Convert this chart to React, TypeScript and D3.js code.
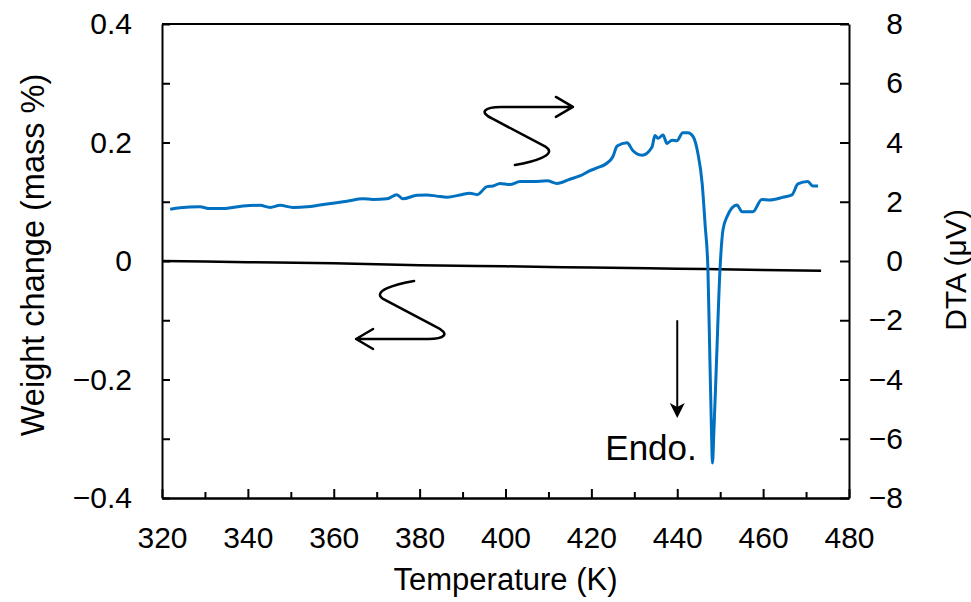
import React, { useEffect, useRef } from 'react';
import * as d3 from 'd3';

// DTA trace (temperature in K, signal in µV)
const dtaTemp = [
  321.9, 324.2, 328.8, 331.2, 334.2, 338.9, 342.8, 345.2, 347.5, 350.5,
  353.8, 356.8, 359.8, 363.1, 366.8, 369.1, 372.4, 374.7, 376.1, 379.4,
  381.7, 384.0, 386.4, 389.4, 391.7, 393.4, 395.7, 397.1, 398.7, 401.0,
  403.4, 406.4, 409.7, 412.0, 415.0, 417.3, 419.7, 421.3, 423.6, 425.0,
  426.0, 428.3, 429.7, 431.8, 434.1, 434.8, 435.5, 436.7, 437.6, 438.8,
  439.9, 441.3, 442.5, 443.7, 444.8, 445.8, 446.5, 447.15, 447.62, 447.97,
  448.2, 448.55, 449.13, 449.95, 450.65, 451.6, 453.9, 455.1, 457.6, 459.7,
  461.6, 464.6, 466.7, 468.1, 470.4, 471.6, 472.8,
];
const dtaValue = [
  1.75, 1.80, 1.83, 1.77, 1.77, 1.86, 1.88, 1.81, 1.88, 1.81,
  1.83, 1.89, 1.95, 2.02, 2.10, 2.08, 2.10, 2.24, 2.10, 2.22,
  2.23, 2.19, 2.15, 2.23, 2.29, 2.24, 2.51, 2.53, 2.62, 2.58,
  2.68, 2.68, 2.71, 2.62, 2.76, 2.87, 3.05, 3.14, 3.30, 3.52,
  3.88, 3.99, 3.72, 3.57, 3.84, 4.24, 4.14, 4.25, 3.97, 4.08,
  4.06, 4.33, 4.33, 4.20, 3.64, 2.62, 1.20, -0.30, -3.44, -5.70,
  -6.82, -5.70, -3.44, -0.30, 1.05, 1.50, 1.89, 1.66, 1.66, 2.08,
  2.06, 2.15, 2.23, 2.60, 2.68, 2.53, 2.53,
];

// weight change trace (mass %)
const tgTemp = [320, 340, 360, 380, 400, 420, 440, 460, 473.5];
const tgValue = [0, -0.002, -0.004, -0.007, -0.009, -0.011, -0.013, -0.015, -0.0165];

// ticks
const xMajor = [320, 340, 360, 380, 400, 420, 440, 460, 480];
const xMinor = [330, 350, 370, 390, 410, 430, 450, 470];
const leftTicks = [-0.4, -0.3, -0.2, -0.1, 0, 0.1, 0.2, 0.3, 0.4];
const rightTicks = [-8, -6, -4, -2, 0, 2, 4, 6, 8];

// annotation anchors in data units (T, mass %)
const upperArrowTip: [number, number] = [415.7, 0.26];
const lowerArrowTip: [number, number] = [365.2, -0.1316];
const endoArrow = { t: 440, from: -0.1, to: -0.265 };
const endoLabel = { t: 433.9, w: -0.336, text: 'Endo.' };

const W = 971;
const H = 602;
const margin = { top: 24, right: 122, bottom: 104, left: 162 };
const FONT = '"Liberation Sans", Arial, sans-serif';
const BLUE = '#0070C0';

const fmtLeft = (v: number) => {
  if (Math.abs(v) < 1e-9) return '0';
  if (Math.round(v * 10) % 2 !== 0) return '';
  return (v < 0 ? '\u2212' : '') + Math.abs(v).toFixed(1);
};
const fmtRight = (v: number) => (v < 0 ? '\u2212' : '') + Math.abs(v);

const App: React.FC = () => {
  const svgRef = useRef<SVGSVGElement>(null);

  useEffect(() => {
    if (!svgRef.current) return;
    const svg = d3.select(svgRef.current);
    svg.selectAll('*').remove();

    const iw = W - margin.left - margin.right;
    const ih = H - margin.top - margin.bottom;

    const x = d3.scaleLinear().domain([320, 480]).range([margin.left, margin.left + iw]);
    const yL = d3.scaleLinear().domain([-0.4, 0.4]).range([margin.top + ih, margin.top]);
    const yR = d3.scaleLinear().domain([-8, 8]).range([margin.top + ih, margin.top]);

    const styleAxis = (g: d3.Selection<SVGGElement, unknown, null, undefined>) => {
      g.select('.domain').attr('stroke', '#000').attr('stroke-width', 2);
      g.selectAll('.tick line').attr('stroke', '#000').attr('stroke-width', 2);
      g.selectAll('.tick text')
        .attr('fill', '#000')
        .style('font-family', FONT)
        .style('font-size', '30px');
    };

    // top border
    svg.append('line')
      .attr('x1', margin.left).attr('x2', margin.left + iw)
      .attr('y1', margin.top).attr('y2', margin.top)
      .attr('stroke', '#000').attr('stroke-width', 2);

    // x axis: minor then major
    svg.append('g')
      .attr('transform', `translate(0,${margin.top + ih})`)
      .call(d3.axisBottom(x).tickValues(xMinor).tickSizeInner(-6).tickSizeOuter(0).tickFormat(() => ''))
      .call(styleAxis);
    const gx = svg.append('g')
      .attr('transform', `translate(0,${margin.top + ih})`)
      .call(d3.axisBottom(x).tickValues(xMajor).tickSizeInner(-9).tickSizeOuter(0).tickPadding(29).tickFormat(d => String(d)))
      .call(styleAxis);
    gx.selectAll('.tick text').attr('dy', '0.71em');

    // left axis
    svg.append('g')
      .attr('transform', `translate(${margin.left},0)`)
      .call(d3.axisLeft(yL).tickValues(leftTicks).tickSizeInner(-8).tickSizeOuter(0).tickPadding(30).tickFormat(d => fmtLeft(+d)))
      .call(styleAxis);

    // right axis, labels right-aligned
    const gr = svg.append('g')
      .attr('transform', `translate(${margin.left + iw},0)`)
      .call(d3.axisRight(yR).tickValues(rightTicks).tickSizeInner(-9).tickSizeOuter(0).tickFormat(d => fmtRight(+d)))
      .call(styleAxis);
    gr.selectAll('.tick text').attr('x', 54).attr('text-anchor', 'end');

    // weight change line
    const tg = tgTemp.map((t, i) => [t, tgValue[i]] as [number, number]);
    svg.append('path')
      .datum(tg)
      .attr('fill', 'none')
      .attr('stroke', '#000')
      .attr('stroke-width', 2.5)
      .attr('d', d3.line<[number, number]>().x(d => x(d[0])).y(d => yL(d[1])).curve(d3.curveMonotoneX));

    // DTA line
    const dta = dtaTemp.map((t, i) => [t, dtaValue[i]] as [number, number]);
    svg.append('path')
      .datum(dta)
      .attr('fill', 'none')
      .attr('stroke', BLUE)
      .attr('stroke-width', 3)
      .attr('stroke-linejoin', 'round')
      .attr('d', d3.line<[number, number]>().x(d => x(d[0])).y(d => yR(d[1])).curve(d3.curveMonotoneX));

    // squiggly arrows (glyph drawn relative to its tip)
    const squiggle = 'M-58,58 C-40,55 -15,48 -27,40 L-80,12 C-95,5 -88,0 -72,0 L0,0 M-17,-10 L0,0 L-17,10';
    [[upperArrowTip, 0], [lowerArrowTip, 180]].forEach(([tip, rot]) => {
      const [t, w] = tip as [number, number];
      svg.append('path')
        .attr('d', squiggle)
        .attr('transform', `translate(${x(t)},${yL(w)}) rotate(${rot})`)
        .attr('fill', 'none')
        .attr('stroke', '#000')
        .attr('stroke-width', 2.5)
        .attr('stroke-linecap', 'round')
        .attr('stroke-linejoin', 'round');
    });

    // endothermic arrow
    const ex = x(endoArrow.t);
    const ey0 = yL(endoArrow.from);
    const ey1 = yL(endoArrow.to);
    svg.append('line')
      .attr('x1', ex).attr('x2', ex)
      .attr('y1', ey0).attr('y2', ey1 - 10)
      .attr('stroke', '#000').attr('stroke-width', 2);
    svg.append('path')
      .attr('d', `M${ex},${ey1} L${ex - 7.5},${ey1 - 15} L${ex},${ey1 - 11} L${ex + 7.5},${ey1 - 15} Z`)
      .attr('fill', '#000');

    svg.append('text')
      .attr('x', x(endoLabel.t))
      .attr('y', yL(endoLabel.w))
      .attr('text-anchor', 'middle')
      .style('font-family', FONT)
      .style('font-size', '35px')
      .text(endoLabel.text);

    // axis titles
    svg.append('text')
      .attr('x', margin.left + iw / 2)
      .attr('y', 590)
      .attr('text-anchor', 'middle')
      .style('font-family', FONT)
      .style('font-size', '31px')
      .text('Temperature (K)');

    svg.append('text')
      .attr('transform', `translate(44,255) rotate(-90)`)
      .attr('text-anchor', 'middle')
      .style('font-family', FONT)
      .style('font-size', '32.5px')
      .text('Weight change (mass %)');

    svg.append('text')
      .attr('transform', `translate(966,270) rotate(-90)`)
      .attr('text-anchor', 'middle')
      .style('font-family', FONT)
      .style('font-size', '30px')
      .text('DTA (\u03BCV)');
  }, []);

  return (
    <svg
      ref={svgRef}
      width={W}
      height={H}
      style={{ position: 'absolute', left: 0, top: 0, background: '#fff' }}
    />
  );
};

export default App;
